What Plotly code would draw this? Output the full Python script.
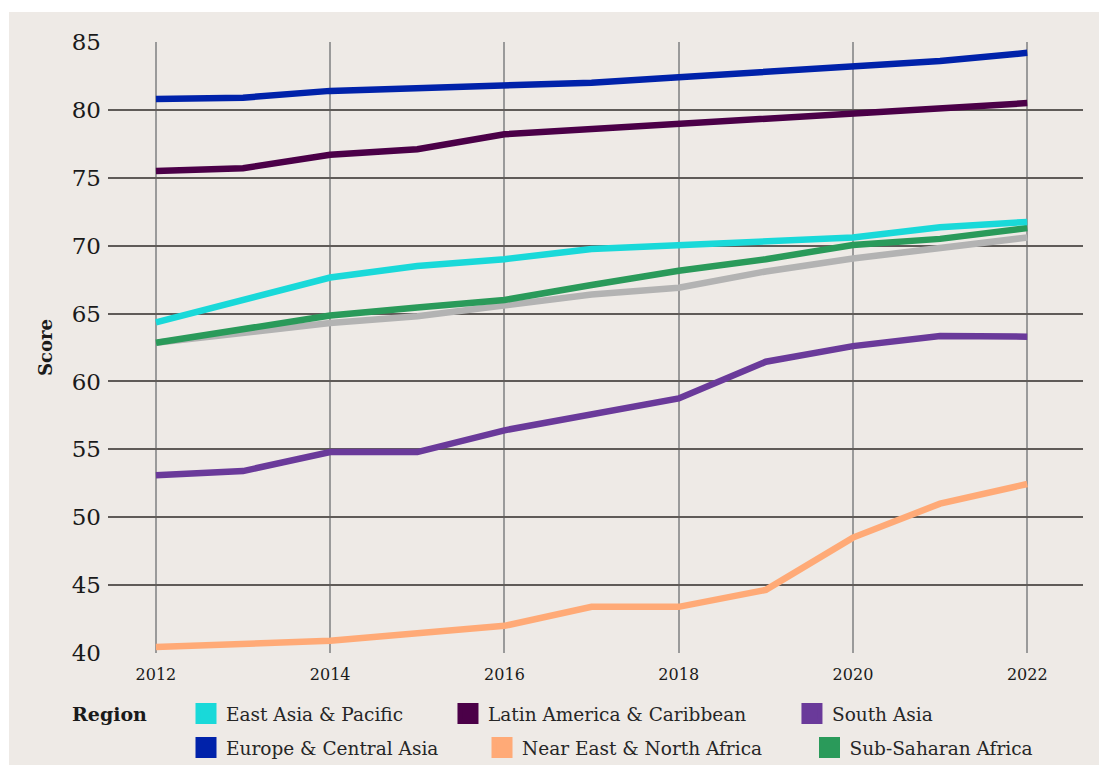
import plotly.graph_objects as go

years = list(range(2012, 2023))

east_asia = [64.35, 66.0, 67.65, 68.5, 69.0, 69.75, 70.05, 70.3, 70.6, 71.35, 71.75]
latin_america = [75.5, 75.7, 76.7, 77.1, 78.2, 78.6, 78.9, 79.3, 79.7, 80.2, 80.5]
south_asia = [53.1, 53.4, 54.8, 54.8, 56.4, 57.55, 58.75, 61.45, 62.6, 63.35, 63.3]
europe = [80.8, 80.9, 81.4, 81.6, 81.75, 82.0, 82.4, 82.8, 83.15, 83.6, 84.2]
near_east = [40.45, 40.7, 40.9, 41.45, 42.0, 43.4, 43.4, 44.65, 48.5, 51.0, 52.45]
sub_saharan = [62.85, 63.85, 64.85, 65.45, 66.0, 67.1, 68.15, 69.0, 70.05, 70.5, 71.3]
overall = [62.85, 63.55, 64.3, 64.8, 65.55, 66.4, 66.9, 68.1, 69.05, 69.8, 70.6]

regions = [
    ("East Asia & Pacific", east_asia, "#19D9D9"),
    ("Latin America & Caribbean", latin_america, "#4B0048"),
    ("South Asia", south_asia, "#6A3A9A"),
    ("Europe & Central Asia", europe, "#0022AA"),
    ("Near East & North Africa", near_east, "#FFAA77"),
    ("Sub-Saharan Africa", sub_saharan, "#2A9A5A"),
]
draw_order = [4, 2, 5, 0, 1, 3]

# one small legend per entry so the two rows flow like the original
legend_pos = [(0.08, -0.0998), (0.3487, -0.0998), (0.7015, -0.0998),
              (0.08, -0.1555), (0.3836, -0.1555), (0.7195, -0.1555)]

fig = go.Figure()

# grey line has no legend entry
fig.add_trace(go.Scatter(x=years, y=overall, mode="lines", showlegend=False,
                         line=dict(color="#B3B3B3", width=6.5), hoverinfo="skip"))

for i in draw_order:
    name, vals, col = regions[i]
    fig.add_trace(go.Scatter(x=years, y=vals, mode="lines", name=name, showlegend=False,
                             line=dict(color=col, width=6.5)))

legend_font = dict(size=18.5, color="#262626")
legends = {}
for k, (name, vals, col) in enumerate(regions):
    key = "legend" if k == 0 else "legend%d" % (k + 1)
    fig.add_trace(go.Scatter(x=[None], y=[None], mode="markers", name=name, legend=key,
                             marker=dict(symbol="square", size=16, color=col,
                                         line=dict(color=col, width=5))))
    lx, ly = legend_pos[k]
    legends[key] = dict(orientation="h", x=lx, xanchor="left", y=ly, yanchor="middle",
                        bgcolor="rgba(0,0,0,0)", font=legend_font, itemsizing="trace")

fig.add_annotation(text="<b>Region</b>", xref="paper", yref="paper", x=-0.039, y=-0.0998,
                   xanchor="left", yanchor="middle", showarrow=False,
                   font=dict(size=19, color="#1a1a1a"))

fig.add_shape(type="rect", xref="paper", yref="paper", x0=-0.1015, x1=1.1, y0=-0.3, y1=1.049,
              fillcolor="#EEEAE6", line_width=0, layer="below")

fig.update_layout(
    width=1099, height=757,
    margin=dict(l=100, r=24, t=34, b=112, autoexpand=False),
    paper_bgcolor="white",
    plot_bgcolor="#EEEAE6",
    font=dict(family="DejaVu Serif", color="#1a1a1a"),
    xaxis=dict(range=[2011.45, 2022.64], tickvals=[2012, 2014, 2016, 2018, 2020, 2022],
               showgrid=True, gridcolor="#9a9a9a", gridwidth=1.5, zeroline=False,
               tickfont=dict(size=16), ticks="", showline=False, ticklabelstandoff=10),
    yaxis=dict(range=[40, 85], tickvals=list(range(40, 90, 5)), showgrid=True,
               gridcolor="#5f5b58", gridwidth=1.5, zeroline=False, ticks="",
               tickfont=dict(size=23), ticklabelstandoff=6,
               title=dict(text="<b>Score</b>", font=dict(size=18), standoff=14)),
    **legends,
)

fig.write_html("out.html")
